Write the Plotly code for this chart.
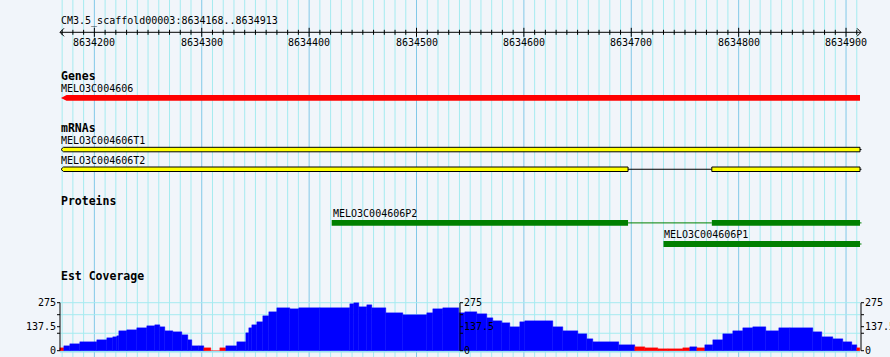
import plotly.graph_objects as go

# ---------------- data ----------------
ref_name = "CM3.5_scaffold00003"
view_start = 8634168
view_end = 8634913
ruler_major = [8634200, 8634300, 8634400, 8634500, 8634600, 8634700, 8634800, 8634900]

gene_name = "MELO3C004606"
gene_start = 8634168
gene_end = 8634913

mrna_names = ["MELO3C004606T1", "MELO3C004606T2"]
mrna_exon_starts = [[8634168], [8634168, 8634775]]
mrna_exon_ends = [[8634913], [8634697, 8634913]]

protein_names = ["MELO3C004606P2", "MELO3C004606P1"]
protein_block_starts = [[8634421, 8634775], [8634730]]
protein_block_ends = [[8634697, 8634913], [8634913]]

cov_start = [8634168, 8634172, 8634177, 8634187, 8634202, 8634212, 8634217, 8634221,
             8634223, 8634230, 8634240, 8634249, 8634256, 8634261, 8634266, 8634273,
             8634282, 8634287, 8634291, 8634297, 8634302, 8634309, 8634317, 8634323,
             8634333, 8634341, 8634344, 8634347, 8634351, 8634357, 8634363, 8634370,
             8634382, 8634391, 8634410, 8634438, 8634442, 8634446, 8634454, 8634459,
             8634472, 8634487, 8634510, 8634515, 8634525, 8634540, 8634545, 8634556,
             8634566, 8634571, 8634580, 8634587, 8634596, 8634601, 8634627, 8634636,
             8634650, 8634659, 8634664, 8634689, 8634703, 8634713, 8634725, 8634734,
             8634748, 8634755, 8634761, 8634769, 8634776, 8634785, 8634795, 8634804,
             8634813, 8634825, 8634838, 8634848, 8634869, 8634878, 8634888, 8634897,
             8634906, 8634910]
cov_value = [13, 27, 38, 50, 61, 70, 78, 85,
             112, 118, 132, 141, 147, 135, 115, 109,
             90, 60, 29, 25, 13, 0, 13, 27,
             52, 100, 130, 150, 166, 200, 220, 243,
             239, 243, 246, 270, 275, 252, 262, 243,
             218, 204, 218, 237, 243, 214, 223, 208,
             185, 170, 157, 134, 166, 170, 138, 115,
             95, 67, 52, 32, 19, 13, 8, 10,
             13, 22, 18, 32, 61, 95, 113, 128,
             138, 115, 128, 132, 109, 80, 65, 52,
             32, 13]
cov_max = 275
cov_tick_labels = [0, 137.5, 275]
cov_minor_ticks = [100, 206.25]
cov_grid = [100, 206.25, 275]
low_threshold = 20

# ---------------- layout constants (pixels) ----------------
W, H = 890, 357
PX0, PX1 = 60, 860
bpp = (view_end - view_start) / (PX1 - PX0)
X_LO = view_start - PX0 * bpp
X_HI = view_end + (W - PX1) * bpp
COV_Y0, COV_Y1 = 350.7, 302.7          # pixel rows of value 0 and cov_max
vpp = cov_max / (COV_Y0 - COV_Y1)

BG = "rgb(241,245,250)"
GRID_MINOR = "rgb(165,235,240)"
GRID_MAJOR = "rgb(130,200,232)"
MONO = "DejaVu Sans Mono"

def px(n):
    return n * bpp

shapes = []
annotations = []

def text(x, y, s, anchor="left", size=10, bold=False, xref="x"):
    annotations.append(dict(
        x=x, y=y, xref=xref, yref="y", text=("<b>%s</b>" % s) if bold else s,
        showarrow=False, xanchor=anchor, yanchor="middle",
        font=dict(family=MONO, size=size, color="black"),
        borderpad=0))

def line(x0, y0, x1, y1, color="black", width=1, layer="above", yref="y"):
    shapes.append(dict(type="line", x0=x0, y0=y0, x1=x1, y1=y1, xref="x", yref=yref,
                       line=dict(color=color, width=width), layer=layer))

def rect(x0, y0, x1, y1, fill, outline=None, layer="above"):
    shapes.append(dict(type="rect", x0=x0, y0=y0, x1=x1, y1=y1, xref="x", yref="y",
                       fillcolor=fill, line=dict(color=outline or fill, width=1 if outline else 0),
                       layer=layer))

def path(pts, fill, outline=None):
    d = "M " + " L ".join("%f,%f" % p for p in pts) + " Z"
    shapes.append(dict(type="path", path=d, xref="x", yref="y", fillcolor=fill,
                       line=dict(color=outline or fill, width=1 if outline else 0),
                       layer="above"))

# vertical grid lines every 10 bp
first = (view_start // 10 + 1) * 10
for pos in range(first, view_end + 1, 10):
    major = pos % 100 == 0
    line(pos, 0, pos, H, GRID_MAJOR if major else GRID_MINOR, 1, layer="below")

# coverage horizontal grid
for g in cov_grid:
    y = COV_Y0 - g / vpp
    line(view_start, y, view_end, y, GRID_MINOR, 1, layer="below")
line(view_start, COV_Y0 + 1, view_end, COV_Y0 + 1, "rgb(150,225,240)", 1.5, layer="above")

# ---------------- ruler ----------------
text(view_start, 21, "%s:%d..%d" % (ref_name, view_start, view_end))
RY = 32.3
line(view_start, RY, view_end + px(1), RY)
line(view_start, RY, view_start + px(4), RY - 4)
line(view_start, RY, view_start + px(4), RY + 4)
line(view_end + px(1), RY, view_end + px(1) - px(4), RY - 4)
line(view_end + px(1), RY, view_end + px(1) - px(4), RY + 4)
for pos in range(first, view_end + 1, 10):
    if pos % 100 == 0:
        line(pos, RY - 4.5, pos, RY + 4.5)
    else:
        line(pos, RY - 2.5, pos, RY + 2.5)
for t in ruler_major:
    text(t, 42.5, str(t), anchor="center")

# ---------------- Genes ----------------
text(view_start, 76, "Genes", size=11.5, bold=True)
text(gene_start, 88, gene_name)
gy0, gy1 = 95, 100.8
path([(gene_start + px(1), (gy0 + gy1) / 2), (gene_start + px(6.5), gy0),
      (gene_end, gy0), (gene_end, gy1), (gene_start + px(6.5), gy1)], "rgb(255,0,0)")

# ---------------- mRNAs ----------------
text(view_start, 128.3, "mRNAs", size=11.5, bold=True)
mrna_label_y = [140.5, 160.5]
mrna_bar_y = [(147.3, 151.8), (167.0, 171.5)]
for name, starts, ends, ly, (y0, y1) in zip(mrna_names, mrna_exon_starts, mrna_exon_ends,
                                            mrna_label_y, mrna_bar_y):
    text(starts[0], ly, name)
    ym = (y0 + y1) / 2
    for i, (s, e) in enumerate(zip(starts, ends)):
        if i > 0:
            line(ends[i - 1], ym, s, ym, "black", 1)
        if s == view_start:
            path([(s + px(1), ym), (s + px(3.5), y0), (e, y0), (e, y1), (s + px(3.5), y1)],
                 "rgb(255,255,0)", "black")
        else:
            rect(s, y0, e, y1, "rgb(255,255,0)", "black")
    line(ends[-1], ym, ends[-1] + px(1.5), ym, "black", 1)

# ---------------- Proteins ----------------
text(view_start, 201, "Proteins", size=11.5, bold=True)
prot_label_y = [213, 234.2]
prot_bar_y = [(220, 225.8), (241, 247)]
GREEN = "rgb(0,128,0)"
for name, starts, ends, ly, (y0, y1) in zip(protein_names, protein_block_starts,
                                            protein_block_ends, prot_label_y, prot_bar_y):
    text(starts[0], ly, name)
    ym = (y0 + y1) / 2
    for i, (s, e) in enumerate(zip(starts, ends)):
        if i > 0:
            line(ends[i - 1], ym, s, ym, GREEN, 1)
        rect(s, y0, e, y1, GREEN)
    line(ends[-1], ym, ends[-1] + px(1.5), ym, GREEN, 1)

# ---------------- Est Coverage ----------------
text(view_start, 275.5, "Est Coverage", size=11.5, bold=True)
cov_end = cov_start[1:] + [view_end]
widths = [e - s for s, e in zip(cov_start, cov_end)]
centers = [s + w / 2 for s, w in zip(cov_start, widths)]
colors = ["rgb(255,0,0)" if v < low_threshold else "rgb(0,0,255)" for v in cov_value]

axes_x = [view_start, (view_start + view_end) / 2, view_end + px(1)]
for k, ax in enumerate(axes_x):
    line(ax, COV_Y1, ax, COV_Y0)
    side = -1 if k == 0 else 1
    for v in sorted(cov_tick_labels + cov_minor_ticks):
        y = COV_Y0 - v / vpp
        line(ax, y, ax + side * px(3), y)
    for v in cov_tick_labels:
        y = COV_Y0 - v / vpp
        lab = ("%g" % v)
        if k == 0:
            text(ax - px(3), y, lab, anchor="right")
        else:
            text(ax + px(2.5), y, lab, anchor="left")

fig = go.Figure()
fig.add_trace(go.Bar(x=centers, y=cov_value, width=widths, marker=dict(color=colors, line=dict(width=0.4, color=colors)),
                     yaxis="y2", hoverinfo="skip", showlegend=False))

fig.update_layout(
    width=W, height=H, autosize=False,
    margin=dict(l=0, r=0, t=0, b=0, pad=0),
    paper_bgcolor=BG, plot_bgcolor=BG,
    xaxis=dict(range=[X_LO, X_HI], domain=[0, 1], visible=False, fixedrange=True),
    yaxis=dict(range=[H, 0], domain=[0, 1], visible=False, fixedrange=True),
    yaxis2=dict(range=[-(H - COV_Y0) * vpp, COV_Y0 * vpp], overlaying="y", visible=False,
                fixedrange=True),
    shapes=shapes, annotations=annotations, showlegend=False, bargap=0,
)
fig.write_html("out.html", config={"displayModeBar": False},
               post_script="document.body.style.margin='0';document.body.style.overflow='hidden';")
